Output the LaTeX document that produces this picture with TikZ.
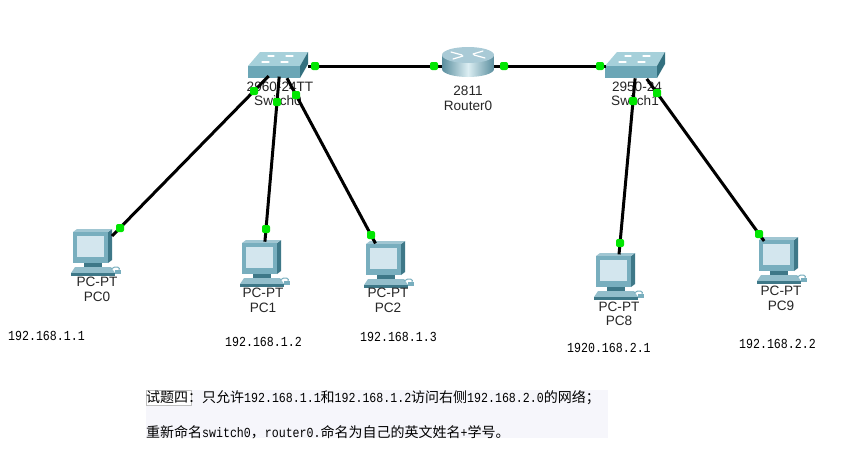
\documentclass[tikz,border=0pt]{standalone}
\usepackage{fontspec}
\setmainfont{Liberation Sans}
\newfontfamily\cjkfont{Noto Sans CJK SC}
\newfontfamily\ipfont[FakeStretch=0.84]{Liberation Mono}
\newcommand\ipm[1]{{\ipfont\fontsize{13.8}{16}\selectfont #1}}
\definecolor{swtop}{HTML}{A6D0DA}
\definecolor{swfront}{HTML}{6BA6B6}
\definecolor{swside}{HTML}{33707F}
\definecolor{rttop}{HTML}{A9CAD6}
\definecolor{rtside}{HTML}{5A8E9E}
\definecolor{rtlight}{HTML}{DCEEF3}
\definecolor{pcbody}{HTML}{78AEBE}
\definecolor{pcdark}{HTML}{3E7888}
\definecolor{pcscreen}{HTML}{D3E6EE}
\definecolor{dotgreen}{HTML}{00E600}
\definecolor{notebg}{HTML}{F6F6FB}
\tikzset{
  lab/.style={font=\fontsize{13.6}{15}\selectfont, text=black!85, inner sep=0pt},
  iplab/.style={font=\ipfont\fontsize{13.8}{16}\selectfont, anchor=west, inner sep=0pt},
  notetext/.style={font=\cjkfont\fontsize{14}{16}\selectfont, anchor=west, inner sep=0pt},
  link/.style={line width=3pt, black},
  gdot/.style={rectangle, rounded corners=2pt, fill=dotgreen, minimum size=8pt, inner sep=0pt},
  pcicon/.pic={
    \fill[pcdark] (14,-22) -- (18,-25) -- (18,6) -- (14,9) -- cycle;
    \fill[pcbody!70] (-21,-22) -- (-17,-25) -- (18,-25) -- (14,-22) -- cycle;
    \fill[pcbody] (-21,-22) rectangle (14,9);
    \fill[pcscreen] (-17,-18) rectangle (10,3);
    \fill[pcdark] (-10,9) rectangle (8,13);
    \fill[pcbody!80] (-19,13) -- (17,13) -- (21,19) -- (-23,19) -- cycle;
    \fill[pcdark] (-23,19) rectangle (21,22);
    \draw[pcbody, line width=1pt] (17,15) .. controls (22,11) and (27,13) .. (25,17);
    \fill[pcbody] (21,16) rectangle (27,20);
  },
  switchicon/.pic={
    \fill[swtop] (12,0) -- (60,0) -- (52,14) -- (0,14) -- cycle;
    \fill[swfront] (0,14) rectangle (52,26);
    \fill[swside] (52,14) -- (60,0) -- (60,12) -- (52,26) -- cycle;
    \draw[white, line width=1.2pt, line cap=round] (20,4) -- (26,4) (38,4) -- (45,4) (14,10) -- (21,10) (33,10) -- (40,10);
  },
  routericon/.pic={
    \shade[left color=rtside, right color=rtside, middle color=rtlight]
      (-26,-7) -- (-26,7) arc[start angle=180, end angle=360, x radius=26pt, y radius=8pt] -- (26,-7) -- cycle;
    \fill[rttop] (0,-7) ellipse [x radius=26pt, y radius=8pt];
    \draw[white, line width=1.2pt, line cap=round] (-17,-10) -- (-6,-7) (6,-7) -- (17,-4) (-15,-3) -- (-5,-6) (5,-8) -- (15,-11);
  },
}
\begin{document}
\begin{tikzpicture}[x=1pt,y=-1pt]
\useasboundingbox[fill=white] (0,0) rectangle (856,450);

% device icons
\pic at (248,52) {switchicon};
\pic at (605,52) {switchicon};
\pic at (468,62) {routericon};
\pic at (94,254) {pcicon};
\pic at (263,265) {pcicon};
\pic at (387,266) {pcicon};
\pic at (617,278) {pcicon};
\pic at (780,262) {pcicon};

% device labels
\node[lab] (sw0m) at (280,87) {2960-24TT};
\node[lab] (sw0n) at (278,101) {Switch0};
\node[lab] (r0m) at (468,91) {2811};
\node[lab] (r0n) at (468,106) {Router0};
\node[lab] (sw1m) at (637,87) {2950-24};
\node[lab] (sw1n) at (635,101) {Switch1};
\node[lab] (pc0m) at (97,282) {PC-PT};
\node[lab] (pc0n) at (97,297) {PC0};
\node[lab] (pc1m) at (263,293) {PC-PT};
\node[lab] (pc1n) at (263,308) {PC1};
\node[lab] (pc2m) at (388,293) {PC-PT};
\node[lab] (pc2n) at (388,308) {PC2};
\node[lab] (pc8m) at (619,307) {PC-PT};
\node[lab] (pc8n) at (619,321) {PC8};
\node[lab] (pc9m) at (781,291) {PC-PT};
\node[lab] (pc9n) at (781,306) {PC9};

% link end points
\coordinate (sw0r) at (308,66);
\coordinate (r0l) at (442,66);
\coordinate (r0r) at (494,66);
\coordinate (sw1l) at (606,66);
\coordinate (sw0a) at (268.7,76);
\coordinate (pc0t) at (112,236);
\coordinate (sw0b) at (279.2,76.6);
\coordinate (pc1t) at (264.9,241.7);
\coordinate (sw0c) at (287,78.2);
\coordinate (pc2t) at (375.5,243.4);
\coordinate (sw1a) at (635.1,78.3);
\coordinate (pc8t) at (619,254.4);
\coordinate (sw1b) at (646.8,78.9);
\coordinate (pc9t) at (764.1,241);

% links
\draw[link] (sw0r) -- (r0l);
\draw[link] (r0r) -- (sw1l);
\draw[link] (sw0a) -- (pc0t);
\draw[link] (sw0b) -- (pc1t);
\draw[link] (sw0c) -- (pc2t);
\draw[link] (sw1a) -- (pc8t);
\draw[link] (sw1b) -- (pc9t);

% port lights
\node[gdot] (d1) at (315,66) {};
\node[gdot] (d2) at (434,66) {};
\node[gdot] (d3) at (504,66) {};
\node[gdot] (d4) at (600,66) {};
\node[gdot] (d5) at (254,91) {};
\node[gdot] (d6) at (120,228) {};
\node[gdot] (d7) at (277,102) {};
\node[gdot] (d8) at (266,229) {};
\node[gdot] (d9) at (296,95) {};
\node[gdot] (d10) at (371,235) {};
\node[gdot] (d11) at (633,101) {};
\node[gdot] (d12) at (620,243) {};
\node[gdot] (d13) at (657,93) {};
\node[gdot] (d14) at (759,234) {};

% addresses
\node[iplab] (ip0) at (8,336) {192.168.1.1};
\node[iplab] (ip1) at (225,342) {192.168.1.2};
\node[iplab] (ip2) at (360,337) {192.168.1.3};
\node[iplab] (ip8) at (567,348) {1920.168.2.1};
\node[iplab] (ip9) at (739,344) {192.168.2.2};

% note
\fill[notebg] (146,390) rectangle (608,438);
\filldraw[fill=white, draw=black!25, line width=0.3pt] (146.5,390) rectangle (191,405);
\node[notetext] (note1) at (146,398) {试题四：只允许\ipm{192.168.1.1}和\ipm{192.168.1.2}访问右侧\ipm{192.168.2.0}的网络；};
\node[notetext] (note2) at (146,432) {重新命名\ipm{switch0}，\ipm{router0.}命名为自己的英文姓名\ipm{+}学号。};
\end{tikzpicture}
\end{document}
